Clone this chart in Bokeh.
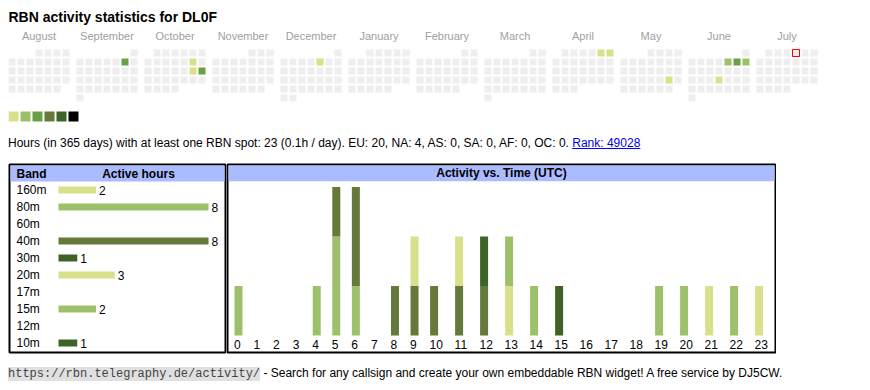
import datetime as dt
from bokeh.plotting import figure
from bokeh.models import Range1d, Div, ColumnDataSource
from bokeh.layouts import column, row
from bokeh.embed import file_html
from bokeh.resources import INLINE
from bokeh.core.properties import value

# ---------------- data ----------------
callsign = "DL0F"
month_names = ["August", "September", "October", "November", "December", "January",
               "February", "March", "April", "May", "June", "July"]
month_years = [2024, 2024, 2024, 2024, 2024, 2025, 2025, 2025, 2025, 2025, 2025, 2025]
month_numbers = [8, 9, 10, 11, 12, 1, 2, 3, 4, 5, 6, 7]
active_days = ["2024-09-07", "2024-10-12", "2024-10-19", "2024-10-20", "2024-12-06",
               "2025-04-05", "2025-04-06", "2025-05-24", "2025-06-06", "2025-06-07",
               "2025-06-08", "2025-06-19"]
active_levels = [3, 1, 1, 3, 1, 1, 1, 1, 2, 3, 2, 1]
today = "2025-07-04"
level_colors = ["#d9e08a", "#9dc16a", "#6aa045", "#65793a", "#3d6426", "#000000"]
empty_color = "#eeeeee"

total_hours = 23
days_span = 365
continents = ["EU", "NA", "AS", "SA", "AF", "OC"]
continent_hours = [20, 4, 0, 0, 0, 0]
rank = 49028

bands = ["160m", "80m", "60m", "40m", "30m", "20m", "17m", "15m", "12m", "10m"]
band_hours = [2, 8, 0, 8, 1, 3, 0, 2, 0, 1]
band_color_index = [0, 1, 2, 3, 4, 0, 1, 1, 3, 4]

hour_labels = ["0", "1", "2", "3", "4", "5", "6", "7", "8", "9", "10", "11",
               "12", "13", "14", "15", "16", "17", "18", "19", "20", "21", "22", "23"]
hourly_160m = [0, 0, 0, 0, 0, 0, 0, 0, 0, 0, 0, 0, 0, 0, 0, 0, 0, 0, 0, 0, 0, 1, 0, 1]
hourly_80m = [1, 0, 0, 0, 1, 2, 1, 0, 0, 0, 0, 0, 0, 0, 0, 0, 0, 0, 0, 1, 1, 0, 1, 0]
hourly_60m = [0, 0, 0, 0, 0, 0, 0, 0, 0, 0, 0, 0, 0, 0, 0, 0, 0, 0, 0, 0, 0, 0, 0, 0]
hourly_40m = [0, 0, 0, 0, 0, 1, 2, 0, 1, 1, 1, 1, 1, 0, 0, 0, 0, 0, 0, 0, 0, 0, 0, 0]
hourly_30m = [0, 0, 0, 0, 0, 0, 0, 0, 0, 0, 0, 0, 0, 0, 0, 1, 0, 0, 0, 0, 0, 0, 0, 0]
hourly_20m = [0, 0, 0, 0, 0, 0, 0, 0, 0, 1, 0, 1, 0, 1, 0, 0, 0, 0, 0, 0, 0, 0, 0, 0]
hourly_17m = [0, 0, 0, 0, 0, 0, 0, 0, 0, 0, 0, 0, 0, 0, 0, 0, 0, 0, 0, 0, 0, 0, 0, 0]
hourly_15m = [0, 0, 0, 0, 0, 0, 0, 0, 0, 0, 0, 0, 0, 1, 1, 0, 0, 0, 0, 0, 0, 0, 0, 0]
hourly_12m = [0, 0, 0, 0, 0, 0, 0, 0, 0, 0, 0, 0, 0, 0, 0, 0, 0, 0, 0, 0, 0, 0, 0, 0]
hourly_10m = [0, 0, 0, 0, 0, 0, 0, 0, 0, 0, 0, 0, 1, 0, 0, 0, 0, 0, 0, 0, 0, 0, 0, 0]

# ---------------- style / layout constants ----------------
FONT = value("Liberation Sans")
HEADER_BLUE = "#aabbff"
PAGE_W = 854
TXT_DY = -4  # baseline correction (px) for glyph texts

# ---------------- calendar ----------------
block_px, cell_px, cell_size, grid_top = 68, 9, 7, 41
cal_h = 122
cal = figure(width=PAGE_W, height=cal_h, x_range=Range1d(0, PAGE_W), y_range=Range1d(cal_h, 0),
             x_axis_type=None, y_axis_type=None, toolbar_location=None, title=None,
             min_border=0, outline_line_color=None, output_backend="svg")
cal.background_fill_color = "white"

active = dict(zip(active_days, active_levels))
cx, cy, cc = [], [], []
tx_, ty_ = [], []
for m, (yr, mo) in enumerate(zip(month_years, month_numbers)):
    first = dt.date(yr, mo, 1)
    nxt = dt.date(yr + mo // 12, mo % 12 + 1, 1)
    for d in range(1, (nxt - first).days + 1):
        day = dt.date(yr, mo, d)
        wk = (d - 1 + first.weekday()) // 7
        x = m * block_px + day.weekday() * cell_px + cell_size / 2
        y = grid_top + wk * cell_px + cell_size / 2
        cx.append(x)
        cy.append(y)
        lvl = active.get(day.isoformat(), 0)
        cc.append(level_colors[lvl - 1] if lvl else empty_color)
        if day.isoformat() == today:
            tx_.append(x)
            ty_.append(y)

cal.rect(x=cx, y=cy, width=cell_size, height=cell_size, fill_color=cc, line_color=None)
cal.rect(x=tx_, y=ty_, width=cell_size, height=cell_size, fill_color=empty_color,
         line_color="#ff0000", line_width=1)

month_x = [m * block_px + (7 * cell_px - 2) / 2 for m in range(len(month_names))]
cal.text(x=month_x, y=[31.5] * len(month_names), text=month_names, y_offset=TXT_DY,
         text_font=FONT, text_font_size="11px", text_color="#a0a0a0", text_align="center",
         text_baseline="alphabetic")

cal.text(x=[0], y=[12], text=[f"RBN activity statistics for {callsign}"], y_offset=TXT_DY,
         text_font=FONT, text_font_size="14px", text_font_style="bold", text_color="#000000",
         text_baseline="alphabetic")

leg_x = [5 + 12 * k for k in range(len(level_colors))]
cal.rect(x=leg_x, y=[108] * len(level_colors), width=10, height=10,
         fill_color=level_colors, line_color=None)

# ---------------- summary line ----------------
cont_txt = ", ".join(f"{c}: {h}" for c, h in zip(continents, continent_hours))
summary = (f"Hours (in {days_span} days) with at least one RBN spot: {total_hours} "
           f"({total_hours / days_span:.1f}h / day). {cont_txt}. "
           f"<a href='#' style='color:#0000ee;text-decoration:underline'>Rank: {rank}</a>")
stats = Div(text=f"<div style=\"font-family:'Liberation Sans',Arial,sans-serif;font-size:12px;"
                 f"line-height:14px;padding-top:6px;color:#000;white-space:nowrap\">{summary}</div>",
            width=PAGE_W, height=33, margin=0)

# ---------------- band chart ----------------
hour_px, row_px = 18.75, 17
bframe_w, bframe_h = 216, 188
bar_left_px = 49
bx = Range1d(-bar_left_px / hour_px, (bframe_w - bar_left_px) / hour_px)
by = Range1d(-1.5 + bframe_h / row_px, -1.5)
pb = figure(width=218, height=192, x_range=bx, y_range=by,
            min_border_left=1, min_border_right=1, min_border_top=1, min_border_bottom=3,
            x_axis_type=None, y_axis_type=None, toolbar_location=None, title=None,
            outline_line_color="black", outline_line_width=2, output_backend="svg")
pb.quad(left=[bx.start + 1 / hour_px], right=[bx.end - 1 / hour_px],
        top=[-1.5 + 1 / row_px], bottom=[-0.5], fill_color=HEADER_BLUE, line_color=None)
pb.text(x=[bx.start], y=[-0.5], text=["Band"], x_offset=7, y_offset=-4 + TXT_DY,
        text_font=FONT, text_font_size="12px", text_font_style="bold",
        text_baseline="alphabetic")
pb.text(x=[(129 - bar_left_px) / hour_px], y=[-0.5], text=["Active hours"],
        y_offset=-4 + TXT_DY, text_font=FONT, text_font_size="12px", text_font_style="bold",
        text_align="center", text_baseline="alphabetic")
rows = list(range(len(bands)))
pb.text(x=[bx.start] * len(bands), y=rows, text=bands, x_offset=7, y_offset=4 + TXT_DY,
        text_font=FONT, text_font_size="12px", text_baseline="alphabetic")
bsrc = ColumnDataSource(dict(y=rows, h=band_hours,
                             c=[level_colors[i] for i in band_color_index]))
pb.hbar(y="y", left=0, right="h", height=7 / row_px, fill_color="c", line_color=None,
        source=bsrc)
nz = [i for i, h in enumerate(band_hours) if h > 0]
pb.text(x=[band_hours[i] for i in nz], y=nz, text=[str(band_hours[i]) for i in nz],
        x_offset=3, y_offset=4 + TXT_DY, text_font=FONT, text_font_size="12px",
        text_baseline="alphabetic")

# ---------------- activity vs time ----------------
tframe_w, tframe_h = 548, 190
unit_px, base_px = 50, 172.7
txr = Range1d(0, tframe_w)
tyr = Range1d(-(tframe_h - base_px) / unit_px, base_px / unit_px)
pt = figure(width=550, height=192, x_range=txr, y_range=tyr, min_border=1,
            x_axis_type=None, y_axis_type=None, toolbar_location=None, title=None,
            outline_line_color="black", outline_line_width=2, output_backend="svg")
pt.quad(left=[1], right=[tframe_w - 1], top=[tyr.end - 1 / unit_px],
        bottom=[tyr.end - 17 / unit_px], fill_color=HEADER_BLUE, line_color=None)
pt.text(x=[tframe_w / 2], y=[tyr.end - 17 / unit_px], text=["Activity vs. Time (UTC)"],
        y_offset=-4 + TXT_DY, text_font=FONT, text_font_size="12px", text_font_style="bold",
        text_align="center", text_baseline="alphabetic")

# table-like columns: width grows with the label length
col_left = []
pos = 1.0
for lab in hour_labels:
    col_left.append(pos)
    pos += 14.12 + 5.44 * len(lab)
bar_x = [l + 10 for l in col_left]

hourly = dict(zip(bands, [hourly_160m, hourly_80m, hourly_60m, hourly_40m, hourly_30m,
                          hourly_20m, hourly_17m, hourly_15m, hourly_12m, hourly_10m]))
tsrc = ColumnDataSource(dict(x=bar_x, **hourly))
pt.vbar_stack(stackers=bands, x="x", width=8, source=tsrc,
              fill_color=[level_colors[i] for i in band_color_index], line_color=None)
pt.text(x=[l + 5.5 for l in col_left], y=[0] * 24, text=hour_labels, y_offset=13 + TXT_DY,
        text_font=FONT, text_font_size="12px", text_baseline="alphabetic")

# ---------------- footer ----------------
footer = Div(text="<div style=\"font-family:'Liberation Sans',Arial,sans-serif;font-size:12px;"
                  "line-height:14px;padding-top:11px;color:#000;white-space:nowrap\">"
                  "<code style=\"font-family:'Liberation Mono',monospace;font-size:12px;"
                  "background:#e0e0e0;color:#444\">https://rbn.telegraphy.de/activity/</code>"
                  " - Search for any callsign and create your own embeddable RBN widget! "
                  "A free service by DJ5CW.</div>",
             width=PAGE_W, height=27, margin=0)

layout = column(cal, stats, row(pb, pt, spacing=0), footer, spacing=0, margin=(8, 0, 0, 8))
open("out.html", "w").write(file_html(layout, INLINE))
